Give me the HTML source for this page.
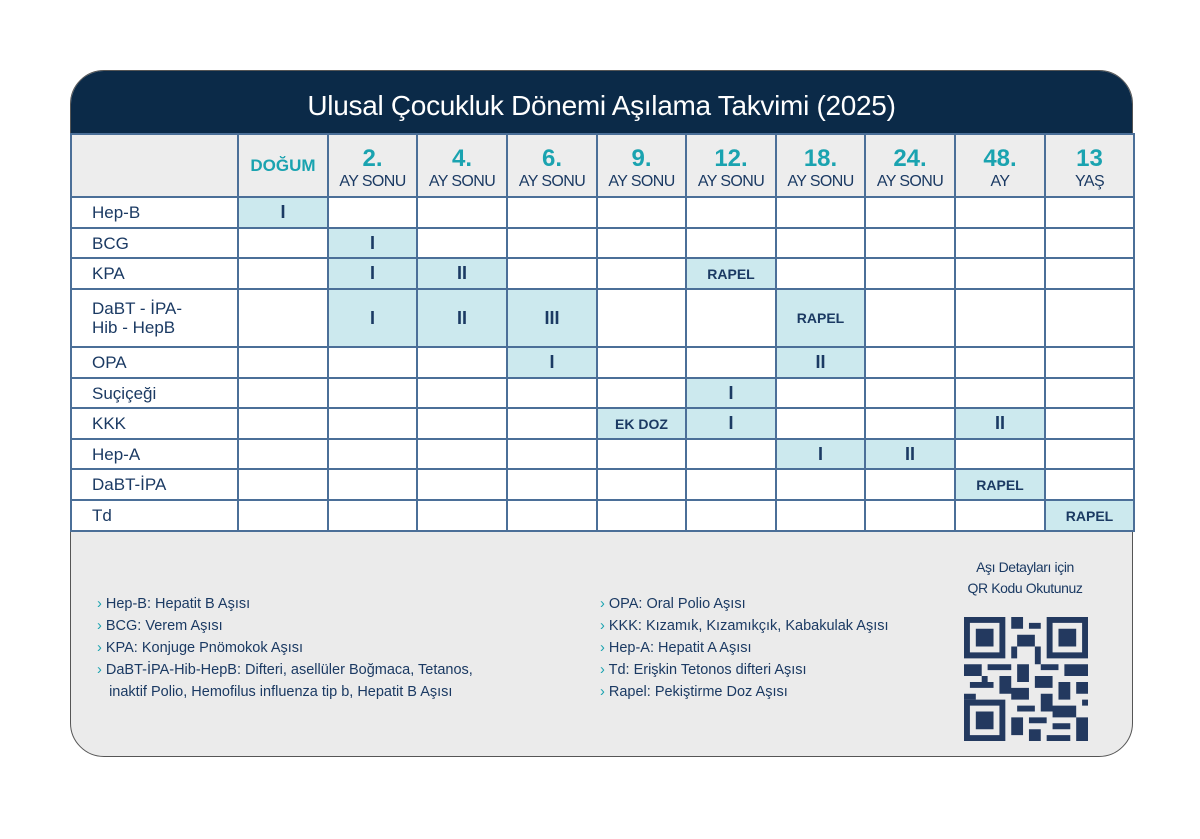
<!DOCTYPE html>
<html><head><meta charset="utf-8"><style>
body{margin:0;width:1200px;height:839px;background:#fff;position:relative;font-family:"Liberation Sans",sans-serif;overflow:hidden}
.card{position:absolute;left:70px;top:70px;width:1063px;height:687px;border-radius:34px;background:#ebebeb;border:1px solid #555;box-sizing:border-box;overflow:hidden}
.hdr{position:absolute;left:0;top:0;width:100%;height:63px;background:#0b2a48;color:#fff;font-size:28px;text-align:center;line-height:70px;letter-spacing:-0.3px}
table{position:absolute;left:70px;top:133px;border-collapse:collapse;table-layout:fixed;color:#1b3a63}
td{border:2px solid #4b6f98;padding:0;text-align:center;background:#fff;font-weight:bold;font-size:18px}
tr.h td{background:#ededed;height:57px;vertical-align:bottom;padding-bottom:4px}
td.l{text-align:left;padding-left:20px;font-weight:normal;font-size:17px;line-height:19px}
td.f{background:#cce9ee}
td.r{font-size:14px}
.n{color:#1aa3b0;font-size:24px;display:block;line-height:26px}
.a{font-weight:normal;font-size:16px;letter-spacing:-0.6px;display:block;line-height:20px}
.leg{position:absolute;font-size:14.5px;line-height:22px;color:#1b3a63}
.leg span{color:#1aa3b0}
.qrt{position:absolute;left:950px;top:557px;width:150px;text-align:center;font-size:14px;line-height:21px;color:#1b3a63;letter-spacing:-0.4px}
</style></head><body>
<div class="card"><div class="hdr">Ulusal Çocukluk Dönemi Aşılama Takvimi (2025)</div></div>
<table>
<colgroup><col style="width:167px"><col style="width:90px"><col style="width:89px"><col style="width:90px"><col style="width:90px"><col style="width:89px"><col style="width:90px"><col style="width:89px"><col style="width:90px"><col style="width:90px"><col style="width:89px"></colgroup>
<tr class="h"><td></td><td style="vertical-align:middle;padding:0"><span class="n" style="font-size:17px">DOĞUM</span></td><td><span class="n">2.</span><span class="a">AY SONU</span></td><td><span class="n">4.</span><span class="a">AY SONU</span></td><td><span class="n">6.</span><span class="a">AY SONU</span></td><td><span class="n">9.</span><span class="a">AY SONU</span></td><td><span class="n">12.</span><span class="a">AY SONU</span></td><td><span class="n">18.</span><span class="a">AY SONU</span></td><td><span class="n">24.</span><span class="a">AY SONU</span></td><td><span class="n">48.</span><span class="a">AY</span></td><td><span class="n">13</span><span class="a">YAŞ</span></td></tr>
<tr style="height:31px"><td class="l">Hep-B</td><td class="f">I</td><td></td><td></td><td></td><td></td><td></td><td></td><td></td><td></td><td></td></tr>
<tr style="height:30px"><td class="l">BCG</td><td></td><td class="f">I</td><td></td><td></td><td></td><td></td><td></td><td></td><td></td><td></td></tr>
<tr style="height:31px"><td class="l">KPA</td><td></td><td class="f">I</td><td class="f">II</td><td></td><td></td><td class="f r">RAPEL</td><td></td><td></td><td></td><td></td></tr>
<tr style="height:58px"><td class="l">DaBT - İPA-<br>Hib - HepB</td><td></td><td class="f">I</td><td class="f">II</td><td class="f">III</td><td></td><td></td><td class="f r">RAPEL</td><td></td><td></td><td></td></tr>
<tr style="height:31px"><td class="l">OPA</td><td></td><td></td><td></td><td class="f">I</td><td></td><td></td><td class="f">II</td><td></td><td></td><td></td></tr>
<tr style="height:30px"><td class="l">Suçiçeği</td><td></td><td></td><td></td><td></td><td></td><td class="f">I</td><td></td><td></td><td></td><td></td></tr>
<tr style="height:31px"><td class="l">KKK</td><td></td><td></td><td></td><td></td><td class="f r">EK DOZ</td><td class="f">I</td><td></td><td></td><td class="f">II</td><td></td></tr>
<tr style="height:30px"><td class="l">Hep-A</td><td></td><td></td><td></td><td></td><td></td><td></td><td class="f">I</td><td class="f">II</td><td></td><td></td></tr>
<tr style="height:31px"><td class="l">DaBT-İPA</td><td></td><td></td><td></td><td></td><td></td><td></td><td></td><td></td><td class="f r">RAPEL</td><td></td></tr>
<tr style="height:31px"><td class="l">Td</td><td></td><td></td><td></td><td></td><td></td><td></td><td></td><td></td><td></td><td class="f r">RAPEL</td></tr>
</table>
<div class="leg" style="left:97px;top:593px"><span>›</span> Hep-B: Hepatit B Aşısı<br><span>›</span> BCG: Verem Aşısı<br><span>›</span> KPA: Konjuge Pnömokok Aşısı<br><span>›</span> DaBT-İPA-Hib-HepB: Difteri, asellüler Boğmaca, Tetanos,<br>&nbsp;&nbsp;&nbsp;inaktif Polio, Hemofilus influenza tip b, Hepatit B Aşısı</div>
<div class="leg" style="left:600px;top:593px"><span>›</span> OPA: Oral Polio Aşısı<br><span>›</span> KKK: Kızamık, Kızamıkçık, Kabakulak Aşısı<br><span>›</span> Hep-A: Hepatit A Aşısı<br><span>›</span> Td: Erişkin Tetonos difteri Aşısı<br><span>›</span> Rapel: Pekiştirme Doz Aşısı</div>
<div class="qrt">Aşı Detayları için<br>QR Kodu Okutunuz</div>
<svg style="position:absolute;left:964px;top:617px" width="124" height="124" viewBox="0 0 21 21" fill="#23395f">
<path d="M0 0h7v7H0zM1 1v5h5V1zM2 2h3v3H2zM14 0h7v7h-7zM15 1v5h5V1zM16 2h3v3h-3zM0 14h7v7H0zM1 15v5h5v-5zM2 16h3v3H2z" fill-rule="evenodd"/>
<path d="M8 0h2v2H8zM11 1h2v1h-2zM9 3h3v2H9zM8 5h1v2H8zM12 5h1v3h-1zM0 8h3v2H0zM4 8h4v1H4zM9 8h2v3H9zM13 8h3v1h-3zM17 8h4v2h-4zM1 11h4v1H1zM6 10h2v3H6zM12 10h3v2h-3zM16 11h2v3h-2zM19 11h2v2h-2zM0 13h2v1H0zM8 12h3v2H8zM13 13h2v3h-2zM9 15h3v1H9zM8 17h2v3H8zM11 17h3v1h-3zM15 15h4v2h-4zM19 17h2v4h-2zM15 18h3v1h-3zM11 19h2v2h-2zM14 20h4v1h-4zM3 10h1v1H3zM20 14h1v1h-1z"/>
</svg>
</body></html>
